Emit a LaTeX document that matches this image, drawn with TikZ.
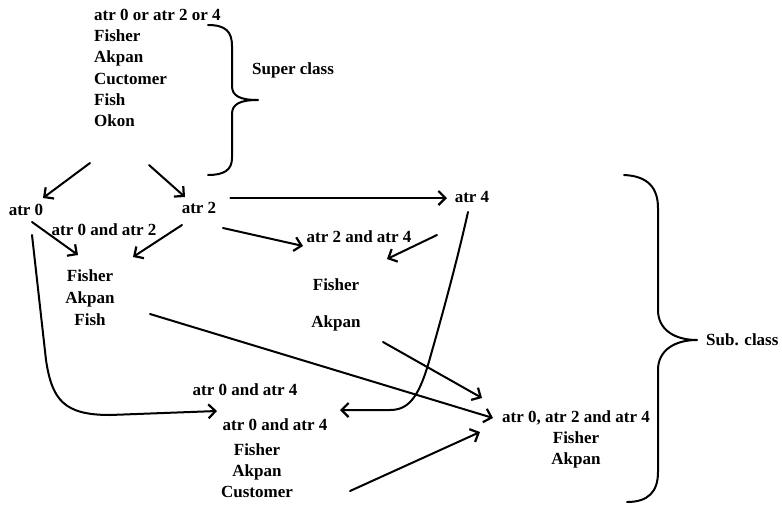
\documentclass[tikz,border=0pt]{standalone}
\usepackage{fontspec}
\setmainfont{Liberation Serif}
\usetikzlibrary{arrows.meta}
\begin{document}
\begin{tikzpicture}[x=1pt,y={(0,-1pt)},
  every node/.style={font=\fontsize{17}{21}\selectfont\bfseries, inner sep=0pt, text height=11pt, text depth=0pt},
  lft/.style={anchor=west},
  ln/.style={line width=2pt, line cap=round, line join=round},
  arr/.style={ln, -{Straight Barb[length=7pt,width=14pt,line width=2.2pt]}},
]
\useasboundingbox (0,0) rectangle (782,504);

% super class block
\node[lft] (s1) at (94,15) {atr 0 or atr 2 or 4};
\node[lft] (s2) at (94,36) {Fisher};
\node[lft] (s3) at (94,57) {Akpan};
\node[lft] (s4) at (94,79) {Cuctomer};
\node[lft] (s5) at (94,100) {Fish};
\node[lft] (s6) at (94,121) {Okon};
\node[lft] (sup) at (252,69) {Super class};

% super brace
\coordinate (bt) at (208,25);
\coordinate (btip) at (258,100);
\coordinate (bb) at (208,175);
\draw[ln] (bt) .. controls (226,25) and (232,32) .. (232,46) -- (232,86)
  .. controls (232,96) and (240,100) .. (btip)
  .. controls (240,100) and (232,104) .. (232,114) -- (232,158)
  .. controls (232,170) and (224,175) .. (bb);

% level nodes
\node (a0) at (26,210) {atr 0};
\node (a2) at (199,208) {atr 2};
\node (a4) at (472,197) {atr 4};
\node (l02) at (104,230) {atr 0 and atr 2};
\node (f1) at (90,276) {Fisher};
\node (f2) at (90,298) {Akpan};
\node (f3) at (90,320) {Fish};
\node (l24) at (359,237) {atr 2 and atr 4};
\node (g1) at (336,285) {Fisher};
\node (g2) at (336,322) {Akpan};
\node (l04) at (245,390) {atr 0 and atr 4};
\node (h0) at (275,425) {atr 0 and atr 4};
\node (h1) at (257,450) {Fisher};
\node (h2) at (257,471) {Akpan};
\node (h3) at (257,492) {Customer};
\node (k0) at (576,417) {atr 0, atr 2 and atr 4};
\node (k1) at (576,438) {Fisher};
\node (k2) at (576,459) {Akpan};
\node[lft] (sub) at (706,340) {Sub. class};

% sub brace
\coordinate (ct) at (624,175);
\coordinate (ctip) at (697,340);
\coordinate (cb) at (627,502);
\draw[ln] (ct) .. controls (648,176) and (658,188) .. (658,208) -- (658,310)
  .. controls (658,330) and (675,340) .. (ctip)
  .. controls (675,340) and (658,350) .. (658,370) -- (658,472)
  .. controls (658,492) and (648,502) .. (cb);

% arrows from super class
\coordinate (p1) at (90,163);
\coordinate (p2) at (149,165);
\draw[arr] (p1) -- (43,198);
\draw[arr] (p2) -- (185,197);
\draw[arr] (a2.east) ++(14,-10) coordinate (q1) -- (447,198);

% to Fisher/Akpan/Fish
\coordinate (q2) at (32,222);
\coordinate (q3) at (182,225);
\draw[arr] (q2) -- (78,255);
\draw[arr] (q3) -- (133,257);

% to atr 2 and atr 4
\coordinate (q4) at (223,228);
\coordinate (q5) at (437,235);
\draw[arr] (q4) -- (303,246);
\draw[arr] (q5) -- (387,259);

% to final
\coordinate (q6) at (150,314);
\coordinate (q7) at (383,342);
\coordinate (q8) at (350,491);
\draw[arr] (q6) -- (493,418);
\draw[arr] (q7) -- (482,398);
\draw[arr] (q8) -- (480,432);

% curved arrows
\coordinate (q9) at (32,235);
\draw[arr] (q9) -- (46,360) .. controls (52,400) and (64,415) .. (110,415) -- (217,411);
\coordinate (q10) at (468,212);
\draw[arr] (q10) .. controls (455,270) and (438,330) .. (428,365) .. controls (418,398) and (408,410) .. (390,410) -- (340,410);
\end{tikzpicture}
\end{document}
